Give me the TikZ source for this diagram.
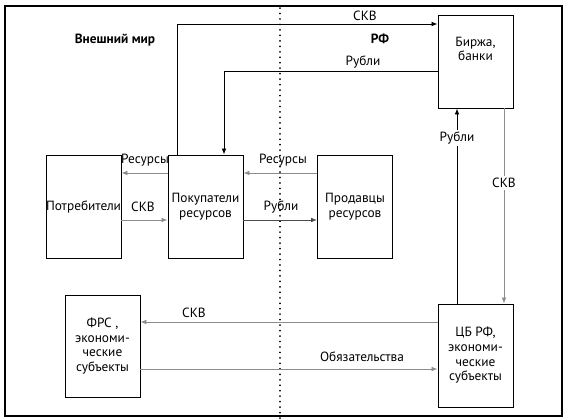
\documentclass[tikz,border=0pt]{standalone}
\usepackage{fontspec}
\setmainfont{PT Sans}
\usetikzlibrary{arrows.meta}

\tikzset{
  box/.style={draw, line width=0.7pt, inner sep=0pt, minimum width=56.25pt, minimum height=77.25pt, align=center},
  arr/.style={line width=0.6pt, -{Latex[length=4.5pt,width=3.5pt]}},
  garr/.style={arr, draw=black!45},
  lbl/.style={inner sep=1pt},
  cut/.style={fill=white, inner sep=1.5pt}
}

\begin{document}
\begin{tikzpicture}[x=0.75pt, y=-0.75pt, font=\fontsize{10}{11}\selectfont]
	\useasboundingbox (0,0) rectangle (570,420);
	% frame and border line
	\draw[line width=0.8pt] (5,6) rectangle (562,416);
	\draw[line width=1.3pt, dash pattern=on 0.1pt off 4pt, line cap=round] (280,8) -- (280,420);
	\node[font=\fontsize{10}{11}\selectfont\bfseries] (world) at (115,40) {Внешний мир};
	\node[font=\fontsize{10}{11}\selectfont\bfseries] (rf) at (380,39) {РФ};

	% boxes
	\node[box, minimum height=69.75pt] (birzha) at (475.5,61.5) {};
	\node[align=center] (birzhatxt) at (475.5,49) {Биржа,\\банки};
	\node[box] (potreb) at (83.5,206.5) {Потребители};
	\node[box] (pokup) at (205.5,206.5) {Покупатели\\ресурсов};
	\node[box] (prodav) at (355,206.5) {Продавцы\\ресурсов};
	\node[box, minimum height=76.5pt] (frs) at (102.5,346) {ФРС ,\\экономи-\\ческие\\субъекты};
	\node[box] (cb) at (475.5,355.5) {ЦБ РФ,\\экономи-\\ческие\\субъекты};

	% top loop
	\draw[arr] (pokup.north -| 177,0) |- (birzha.west |- 0,24);
	\node[lbl] (skv1) at (365,16) {СКВ};
	\draw[arr] (birzha.west |- 0,71) -| (pokup.north -| 224,0);
	\node[lbl] (rub1) at (363,62) {Рубли};

	% right side
	\draw[arr] (cb.north -| 457,0) -- (birzha.south -| 457,0);
	\node[cut] (rub2) at (457,138) {Рубли};
	\draw[garr] (birzha.south -| 504,0) -- (cb.north -| 504,0);
	\node[cut] (skv2) at (504,183) {СКВ};

	% middle row
	\draw[garr] (prodav.west |- 0,173) -- (pokup.east |- 0,173);
	\node[lbl] (res1) at (283,160) {Ресурсы};
	\draw[garr, draw=black!70] (pokup.east |- 0,220) -- (prodav.west |- 0,220);
	\node[lbl] (rub3) at (281,207) {Рубли};
	\draw[garr] (pokup.west |- 0,173) -- (potreb.east |- 0,173);
	\node[lbl] (res2) at (145,160) {Ресурсы};
	\draw[garr] (potreb.east |- 0,220) -- (pokup.west |- 0,220);
	\node[lbl] (skv3) at (143,207) {СКВ};

	% bottom row
	\draw[garr] (cb.west |- 0,322) -- (frs.east |- 0,322);
	\node[lbl] (skv4) at (194,313) {СКВ};
	\draw[garr] (frs.east |- 0,369) -- (cb.west |- 0,369);
	\node[lbl] (obyaz) at (362,357) {Обязательства};
\end{tikzpicture}
\end{document}
